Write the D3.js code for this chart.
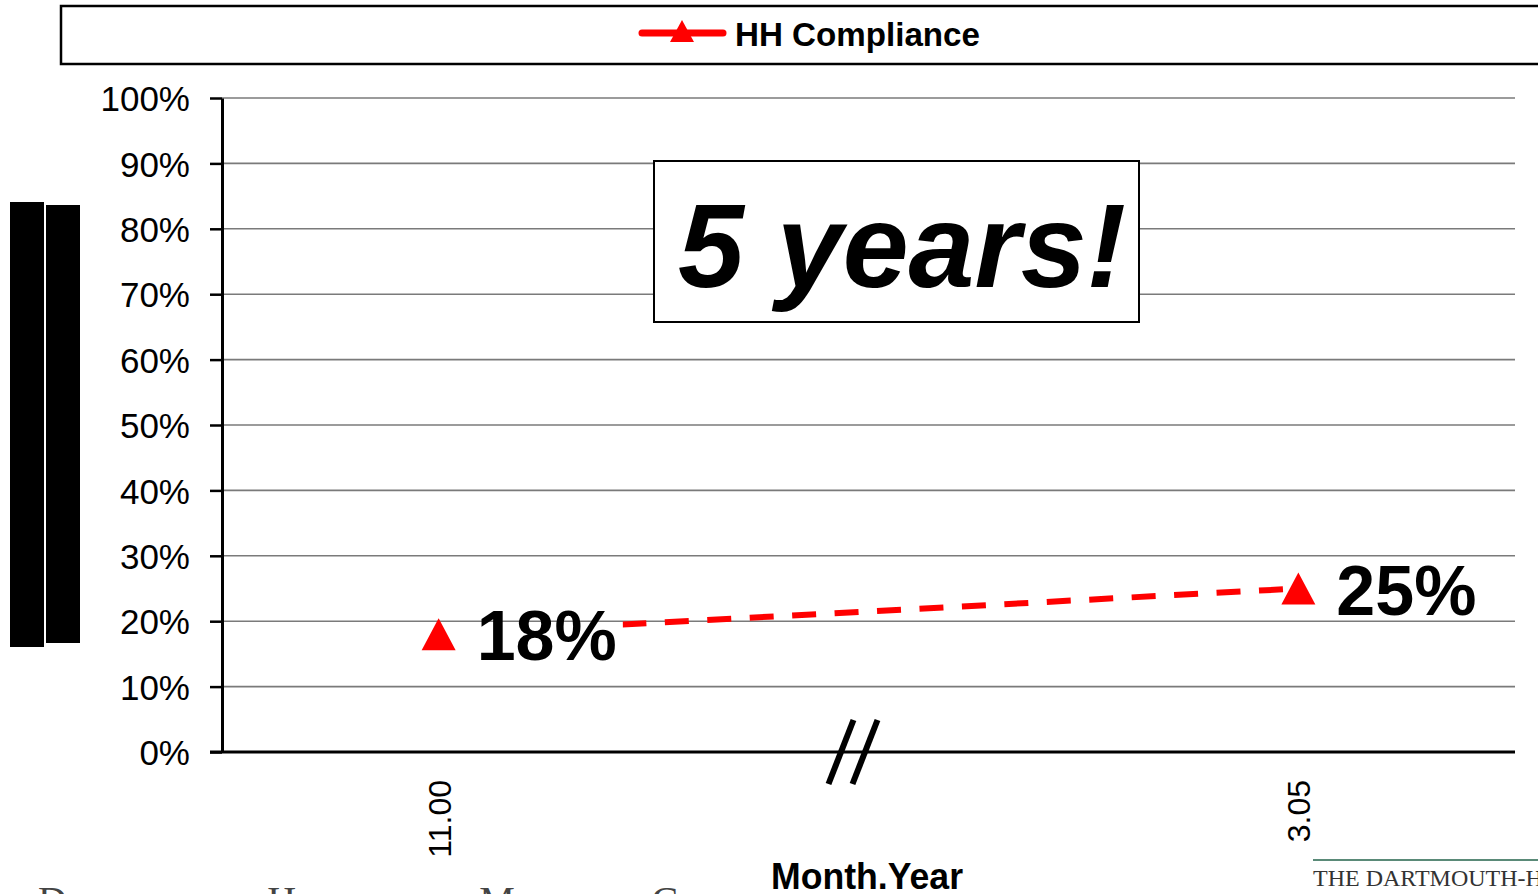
<!DOCTYPE html>
<html>
<head>
<meta charset="utf-8">
<script src="https://cdn.jsdelivr.net/npm/d3@7/dist/d3.min.js"></script>
<style>
  html, body { margin: 0; padding: 0; background: #fff; overflow: hidden; }
  svg { display: block; }
</style>
</head>
<body>
<svg id="chart" width="1538" height="894"></svg>
<script>
// ---- data ----
const categories = ["11.00", "3.05"];
const compliance = [0.18, 0.25];
const dataLabels = ["18%", "25%"];
const yTicks = [0, 0.1, 0.2, 0.3, 0.4, 0.5, 0.6, 0.7, 0.8, 0.9, 1.0];
const seriesName = "HH Compliance";
const xTitle = "Month.Year";
const callout = "5 years!";

(function () {
const svg = d3.select("#chart");
const pLeft = 222, pRight = 1515, pTop = 98, pBottom = 752;

const x = d3.scalePoint().domain(categories).range([pLeft, pRight]).padding(0.252);
const y = d3.scaleLinear().domain([0, 1]).range([pBottom, pTop]);

// redaction bars at left
svg.append("rect").attr("x", 10).attr("y", 202).attr("width", 34).attr("height", 445).attr("fill", "#000");
svg.append("rect").attr("x", 46).attr("y", 205).attr("width", 34).attr("height", 438).attr("fill", "#000");

// gridlines
svg.append("g").selectAll("line").data(yTicks.filter(d => d > 0)).join("line")
  .attr("x1", pLeft).attr("x2", pRight)
  .attr("y1", d => y(d)).attr("y2", d => y(d))
  .attr("stroke", "#7a7a7a").attr("stroke-width", 1.6);

// y axis
const yAxis = svg.append("g").attr("transform", `translate(${pLeft},0)`)
  .call(d3.axisLeft(y).tickValues(yTicks).tickFormat(d3.format(".0%")).tickSize(12).tickSizeOuter(0).tickPadding(20));
yAxis.select(".domain").attr("stroke", "#000").attr("stroke-width", 3);
yAxis.selectAll(".tick line").attr("stroke", "#000").attr("stroke-width", 2.5);
yAxis.selectAll(".tick text").attr("font-family", "'Liberation Sans', Arial, sans-serif")
  .attr("font-size", 35).attr("fill", "#000").attr("dy", "0.36em");

// x axis
svg.append("line").attr("x1", 210).attr("x2", pRight).attr("y1", pBottom).attr("y2", pBottom)
  .attr("stroke", "#000").attr("stroke-width", 3);
const xAxis = svg.append("g").attr("transform", `translate(0,${pBottom})`)
  .call(d3.axisBottom(x).tickSize(0).tickSizeOuter(0));
xAxis.select(".domain").remove();
xAxis.selectAll(".tick text")
  .attr("font-family", "'Liberation Sans', Arial, sans-serif").attr("font-size", 32).attr("fill", "#000")
  .attr("transform", "rotate(-90)").attr("text-anchor", "end")
  .attr("x", -28).attr("y", 0).attr("dy", "0.36em");

// axis break marks
const bx = (x(categories[0]) + x(categories[1])) / 2;
[-15, 9].forEach(dx => {
  svg.append("line")
    .attr("x1", bx + dx).attr("y1", pBottom - 32)
    .attr("x2", bx + dx - 25).attr("y2", pBottom + 32)
    .attr("stroke", "#000").attr("stroke-width", 6);
});

// x title
svg.append("text").attr("x", 867).attr("y", 889).attr("text-anchor", "middle")
  .attr("font-family", "'Liberation Sans Narrow', 'Liberation Sans', Arial, sans-serif")
  .attr("font-weight", "bold").attr("font-size", 36)
  .attr("textLength", 192).attr("lengthAdjust", "spacingAndGlyphs")
  .text(xTitle);

// data labels
const pts = categories.map((c, i) => ({ c, v: compliance[i], label: dataLabels[i] }));
const labels = svg.append("g").selectAll("text").data(pts).join("text")
  .attr("x", d => x(d.c) + 38).attr("y", d => y(d.v) + 26)
  .attr("font-family", "'Liberation Sans', Arial, sans-serif")
  .attr("font-weight", "bold").attr("font-size", 70).attr("fill", "#000")
  .text(d => d.label);

// series line (hidden behind first label)
const firstBox = labels.nodes()[0].getBBox();
svg.append("clipPath").attr("id", "lineClip").append("rect")
  .attr("x", firstBox.x + firstBox.width + 6).attr("y", 0).attr("width", 1538).attr("height", 894);
const line = d3.line().x(d => x(d.c)).y(d => y(d.v));
svg.append("path").datum(pts).attr("d", line)
  .attr("clip-path", "url(#lineClip)")
  .attr("fill", "none").attr("stroke", "#ff0000").attr("stroke-width", 6)
  .attr("stroke-dasharray", "24,18.5").attr("stroke-dashoffset", 28.5);

// markers
const tri = (cx, cy, hw, hh) => `M${cx},${cy - hh}L${cx + hw},${cy + hh}L${cx - hw},${cy + hh}Z`;
svg.append("g").selectAll("path").data(pts).join("path")
  .attr("d", d => tri(x(d.c), y(d.v), 17, 16)).attr("fill", "#ff0000");

// callout box
svg.append("rect").attr("x", 654).attr("y", 161).attr("width", 485).attr("height", 161)
  .attr("fill", "#fff").attr("stroke", "#000").attr("stroke-width", 2);
svg.append("text").attr("x", 678).attr("y", 287)
  .attr("font-family", "'Liberation Sans', Arial, sans-serif")
  .attr("font-weight", "bold").attr("font-style", "italic").attr("font-size", 118)
  .attr("textLength", 448).attr("lengthAdjust", "spacingAndGlyphs")
  .text(callout);

// legend
svg.append("rect").attr("x", 61).attr("y", 6).attr("width", 1500).attr("height", 58)
  .attr("fill", "none").attr("stroke", "#000").attr("stroke-width", 2.5);
svg.append("line").attr("x1", 642).attr("x2", 723).attr("y1", 33).attr("y2", 33)
  .attr("stroke", "#ff0000").attr("stroke-width", 7).attr("stroke-linecap", "round");
svg.append("path").attr("d", tri(682, 31, 12, 11)).attr("fill", "#ff0000");
svg.append("text").attr("x", 735).attr("y", 46)
  .attr("font-family", "'Liberation Sans Narrow', 'Liberation Sans', Arial, sans-serif")
  .attr("font-weight", "bold").attr("font-size", 33)
  .attr("textLength", 245).attr("lengthAdjust", "spacingAndGlyphs")
  .text(seriesName);

// footer branding (cut off at bottom, as in the source slide)
svg.append("text").attr("x", 38).attr("y", 914)
  .attr("font-family", "'Liberation Serif', 'Times New Roman', serif")
  .attr("font-size", 40).attr("fill", "#444").attr("font-variant", "small-caps")
  .attr("letter-spacing", 3)
  .text("Dartmouth-Hitchcock Medical Center");
svg.append("line").attr("x1", 1313).attr("x2", 1538).attr("y1", 860).attr("y2", 860)
  .attr("stroke", "#5a8a78").attr("stroke-width", 2);
svg.append("text").attr("x", 1313).attr("y", 886)
  .attr("font-family", "'Liberation Serif', 'Times New Roman', serif")
  .attr("font-size", 24).attr("fill", "#333")
  .text("THE DARTMOUTH-HITCHCOCK");
})();
</script>
</body>
</html>
